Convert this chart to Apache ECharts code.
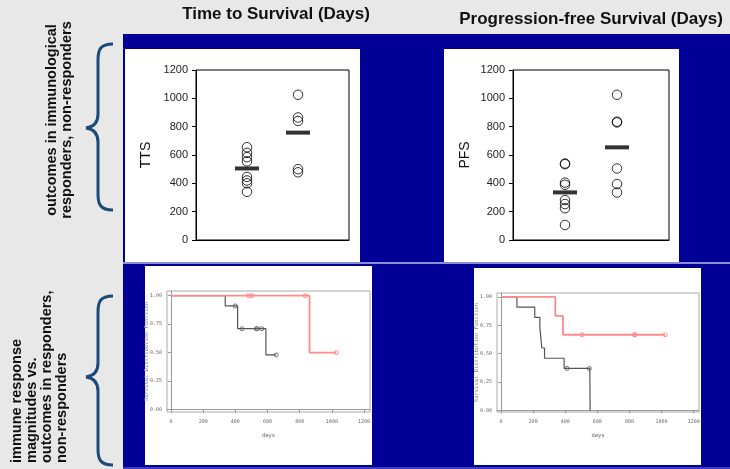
<!DOCTYPE html>
<html>
<head>
<meta charset="utf-8">
<script src="https://cdn.jsdelivr.net/npm/echarts@6/dist/echarts.min.js"></script>
<style>
html, body { margin: 0; padding: 0; background: #e8e8e8; }
#main { width: 730px; height: 469px; }
</style>
</head>
<body>
<div id="main"></div>
<script>
// dot plots: group 1 = non-responders, group 2 = responders
var groups = [1, 2];
var ttsNonResp = [655, 615, 585, 555, 445, 420, 400, 340];
var ttsResp = [1025, 865, 840, 500, 478];
var ttsMeans = [505, 758];
var pfsNonResp = [540, 535, 405, 390, 282, 254, 224, 106];
var pfsResp = [1025, 835, 830, 505, 395, 335];
var pfsMeans = [336, 654];

// Kaplan-Meier steps [day, survival]
var kmTtsNon = [[0, 1], [337, 0.91], [414, 0.71], [590, 0.48], [654, 0.48]];
var kmTtsNonCens = [[399, 0.91], [441, 0.71], [530, 0.71], [537, 0.71], [565, 0.71], [654, 0.48]];
var kmTtsResp = [[0, 1], [861, 0.5], [1027, 0.5]];
var kmTtsRespCens = [[482, 1], [503, 1], [834, 1], [1027, 0.5]];
var kmPfsNon = [[0, 1], [99, 0.91], [210, 0.82], [242, 0.73], [254, 0.55], [271, 0.46], [393, 0.37], [553, 0.37], [555, 0]];
var kmPfsNonCens = [[411, 0.37], [550, 0.37]];
var kmPfsResp = [[0, 1], [338, 0.833], [386, 0.667], [1022, 0.667]];
var kmPfsRespCens = [[504, 0.667], [830, 0.667], [835, 0.667], [1022, 0.667]];
var kmDays = [0, 200, 400, 600, 800, 1000, 1200];
var kmProbs = [0, 0.25, 0.5, 0.75, 1];

var FONT = 'Arial, "Liberation Sans", sans-serif';
var MONO = '"DejaVu Sans Mono", monospace';
var BLUE = '#000096';

var myChart = echarts.init(document.getElementById('main'));

function pts(vals, x) {
    return vals.map(function (v) { return [x, v]; });
}
function plain(v) { return String(v); }

function dotX(i) {
    return {
        gridIndex: i, type: 'value', min: 0, max: 3,
        axisLine: { lineStyle: { color: '#000', width: 1 } },
        axisTick: { show: false }, axisLabel: { show: false }, splitLine: { show: false }
    };
}
function dotY(i, name, gap) {
    return {
        gridIndex: i, type: 'value', min: 0, max: 1200, interval: 200,
        name: name, nameLocation: 'middle', nameRotate: 90, nameGap: gap,
        nameTextStyle: { fontFamily: FONT, fontSize: 14, color: '#111' },
        axisLine: { lineStyle: { color: '#000', width: 1 } },
        axisTick: { length: 4, lineStyle: { color: '#000' } },
        axisLabel: { fontFamily: FONT, fontSize: 11, color: '#222', margin: 8, formatter: plain },
        splitLine: { show: false }
    };
}
function kmX(i, max) {
    return {
        gridIndex: i, type: 'value', min: -25, max: max,
        name: 'days', nameLocation: 'middle', nameGap: 21,
        nameTextStyle: { fontFamily: MONO, fontSize: 5.5, color: '#666' },
        axisLine: { lineStyle: { color: '#999' } },
        axisTick: { customValues: kmDays, length: 3, lineStyle: { color: '#999' } },
        axisLabel: { customValues: kmDays, fontFamily: MONO, fontSize: 5, color: '#666', margin: 7, formatter: plain },
        splitLine: { show: false }
    };
}
function kmY(i, min, max) {
    return {
        gridIndex: i, type: 'value', min: min, max: max,
        name: 'Survival Distribution Function', nameLocation: 'middle', nameRotate: 90, nameGap: 17,
        nameMoveOverlap: false,
        nameTextStyle: { fontFamily: MONO, fontSize: 5.5, color: '#888' },
        axisLine: { lineStyle: { color: '#999' } },
        axisTick: { customValues: kmProbs, length: 3, lineStyle: { color: '#999' } },
        axisLabel: {
            customValues: kmProbs, fontFamily: MONO, fontSize: 5, color: '#666', margin: 5,
            formatter: function (v) { return v.toFixed(2); }
        },
        splitLine: { show: false }
    };
}

function circles(data, xi) {
    return {
        type: 'scatter', xAxisIndex: xi, yAxisIndex: xi, data: data,
        symbol: 'circle', symbolSize: 9.5,
        itemStyle: { color: 'rgba(0,0,0,0)', borderColor: '#000', borderWidth: 1 }
    };
}
function meanBars(vals, xi) {
    return {
        type: 'scatter', xAxisIndex: xi, yAxisIndex: xi,
        data: vals.map(function (v, i) { return [groups[i], v]; }),
        symbol: 'rect', symbolSize: [24, 4], itemStyle: { color: '#000' }
    };
}
function kmLine(data, xi, color, w) {
    return {
        type: 'line', xAxisIndex: xi, yAxisIndex: xi, data: data, step: 'end',
        showSymbol: false, lineStyle: { color: color, width: w }
    };
}
function kmCens(data, xi, color) {
    return {
        type: 'scatter', xAxisIndex: xi, yAxisIndex: xi, data: data,
        symbol: 'circle', symbolSize: 4,
        itemStyle: { color: 'rgba(255,255,255,0.3)', borderColor: color, borderWidth: 1 }
    };
}

// curly brace from bezier pieces
function brace(top, mid, bot) {
    var st = { stroke: '#1b4a7a', lineWidth: 3, fill: 'none' };
    function bz(x1, y1, c1x, c1y, c2x, c2y, x2, y2) {
        return { type: 'bezierCurve', silent: true, shape: { x1: x1, y1: y1, cpx1: c1x, cpy1: c1y, cpx2: c2x, cpy2: c2y, x2: x2, y2: y2 }, style: st };
    }
    function ln(x1, y1, x2, y2) {
        return { type: 'line', silent: true, shape: { x1: x1, y1: y1, x2: x2, y2: y2 }, style: st };
    }
    return [
        bz(113, top, 100, top, 98, top + 6, 98, top + 16),
        ln(98, top + 16, 98, mid - 14),
        bz(98, mid - 14, 98, mid - 5, 93, mid - 1, 86, mid),
        bz(86, mid, 93, mid + 1, 98, mid + 5, 98, mid + 14),
        ln(98, mid + 14, 98, bot - 16),
        bz(98, bot - 16, 98, bot - 6, 100, bot, 113, bot)
    ];
}

var graphics = [
    { type: 'rect', z: -10, silent: true, shape: { x: 123, y: 34, width: 607, height: 435 }, style: { fill: BLUE } },
    { type: 'rect', z: -9, silent: true, shape: { x: 123, y: 262, width: 607, height: 2 }, style: { fill: '#8c8cd2' } },
    { type: 'rect', z: -9, silent: true, shape: { x: 123, y: 467, width: 607, height: 2 }, style: { fill: '#3c3cc0' } },
    { type: 'rect', z: -9, silent: true, shape: { x: 125, y: 49, width: 235, height: 213 }, style: { fill: '#fff' } },
    { type: 'rect', z: -9, silent: true, shape: { x: 444, y: 49, width: 235, height: 213 }, style: { fill: '#fff' } },
    { type: 'rect', z: -9, silent: true, shape: { x: 145, y: 266, width: 227, height: 199 }, style: { fill: '#fff' } },
    { type: 'rect', z: -9, silent: true, shape: { x: 474, y: 268, width: 227, height: 197 }, style: { fill: '#fff' } },
    {
        type: 'text', x: 276, y: 14, silent: true,
        style: { text: 'Time to Survival (Days)', font: 'bold 17px ' + FONT, fill: '#111', align: 'center', verticalAlign: 'middle' }
    },
    {
        type: 'text', x: 591, y: 19, silent: true,
        style: { text: 'Progression-free Survival (Days)', font: 'bold 17px ' + FONT, fill: '#111', align: 'center', verticalAlign: 'middle' }
    },
    {
        type: 'text', x: 59, y: 120, rotation: Math.PI / 2, silent: true,
        style: {
            text: 'outcomes in immunological\nresponders, non-responders', font: 'bold 14.5px ' + FONT,
            fill: '#111', align: 'center', verticalAlign: 'middle', lineHeight: 15
        }
    },
    {
        type: 'text', x: 9, y: 463, rotation: Math.PI / 2, silent: true,
        style: {
            text: 'immune response\nmagnitudes vs.\noutcomes in responders,\nnon-responders', font: 'bold 14.5px ' + FONT,
            fill: '#111', align: 'left', verticalAlign: 'top', lineHeight: 15
        }
    }
].concat(brace(44, 128, 210), brace(296, 377, 465));

var option = {
    backgroundColor: '#e8e8e8',
    animation: false,
    grid: [
        { left: 196, top: 70, width: 153, height: 170, show: true, borderColor: '#000', borderWidth: 1 },
        { left: 513, top: 70, width: 156, height: 170, show: true, borderColor: '#000', borderWidth: 1 },
        { left: 167, top: 291, width: 203, height: 121, show: true, borderColor: '#aaa', borderWidth: 1 },
        { left: 497, top: 293, width: 202, height: 119, show: true, borderColor: '#aaa', borderWidth: 1 }
    ],
    xAxis: [dotX(0), dotX(1), kmX(2, 1237), kmX(3, 1233)],
    yAxis: [dotY(0, 'TTS', 43), dotY(1, 'PFS', 41), kmY(2, -0.021, 1.041), kmY(3, -0.014, 1.035)],
    graphic: graphics,
    series: [
        circles(pts(ttsNonResp, groups[0]).concat(pts(ttsResp, groups[1])), 0),
        meanBars(ttsMeans, 0),
        circles(pts(pfsNonResp, groups[0]).concat(pts(pfsResp, groups[1])), 1),
        meanBars(pfsMeans, 1),
        kmLine(kmTtsNon, 2, '#555', 1.2),
        kmCens(kmTtsNonCens, 2, '#555'),
        kmLine(kmTtsResp, 2, '#ff8a8a', 1.8),
        kmCens(kmTtsRespCens, 2, '#ff6f6f'),
        kmLine(kmPfsNon, 3, '#555', 1.2),
        kmCens(kmPfsNonCens, 3, '#555'),
        kmLine(kmPfsResp, 3, '#ff8a8a', 1.8),
        kmCens(kmPfsRespCens, 3, '#ff6f6f')
    ]
};

myChart.setOption(option);
</script>
</body>
</html>
